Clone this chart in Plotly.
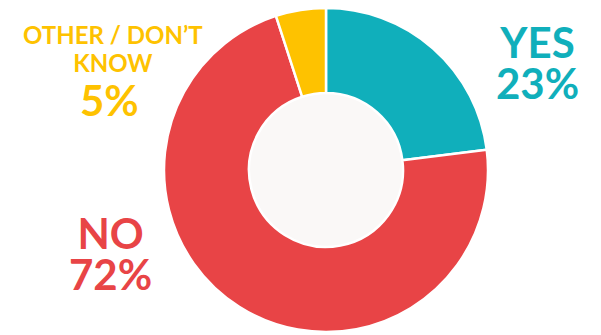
import plotly.graph_objects as go

labels = ["YES", "NO", "OTHER / DON’T KNOW"]
values = [23, 72, 5]
colors = ["#10AFBB", "#E84446", "#FEC200"]

W, H = 601, 335
cx, cy, R, r_hole = 326, 170, 162, 77

fig = go.Figure(go.Pie(
    labels=labels, values=values, sort=False, direction="clockwise", rotation=0,
    hole=r_hole / R, textinfo="none", hoverinfo="label+percent",
    marker=dict(colors=colors, line=dict(color="white", width=2.5)),
    domain=dict(x=[(cx - R) / W, (cx + R) / W], y=[(H - cy - R) / H, (H - cy + R) / H]),
    showlegend=False,
))

fig.add_shape(type="circle", xref="paper", yref="paper", layer="below",
              x0=(cx - r_hole) / W, x1=(cx + r_hole) / W,
              y0=(H - cy - r_hole) / H, y1=(H - cy + r_hole) / H,
              fillcolor="#FAF8F7", line=dict(width=0))

def ann(lines, x, y, base, glyph, color):
    text = "<br>".join(f"<span style='font-size:{glyph}px'>{t}</span>" for t in lines)
    fig.add_annotation(text=text, x=x / W, y=1 - y / H, xref="paper", yref="paper",
                       xanchor="center", yanchor="middle", showarrow=False,
                       font=dict(family="Lato", size=base, color=color, weight="bold"))

ann(["YES", f"{values[0]}%"], 537, 62, 31.5, 42, colors[0])
ann(["NO", f"{values[1]}%"], 110, 253, 31.5, 42, colors[1])
ann(["OTHER / DON’T", "KNOW"], 113, 48, 21.5, 24, colors[2])
ann([f"{values[2]}%"], 109, 100, 42, 42, colors[2])

fig.update_layout(width=W, height=H, margin=dict(l=0, r=0, t=0, b=0),
                  paper_bgcolor="white", plot_bgcolor="white")
fig.write_html("out.html")
